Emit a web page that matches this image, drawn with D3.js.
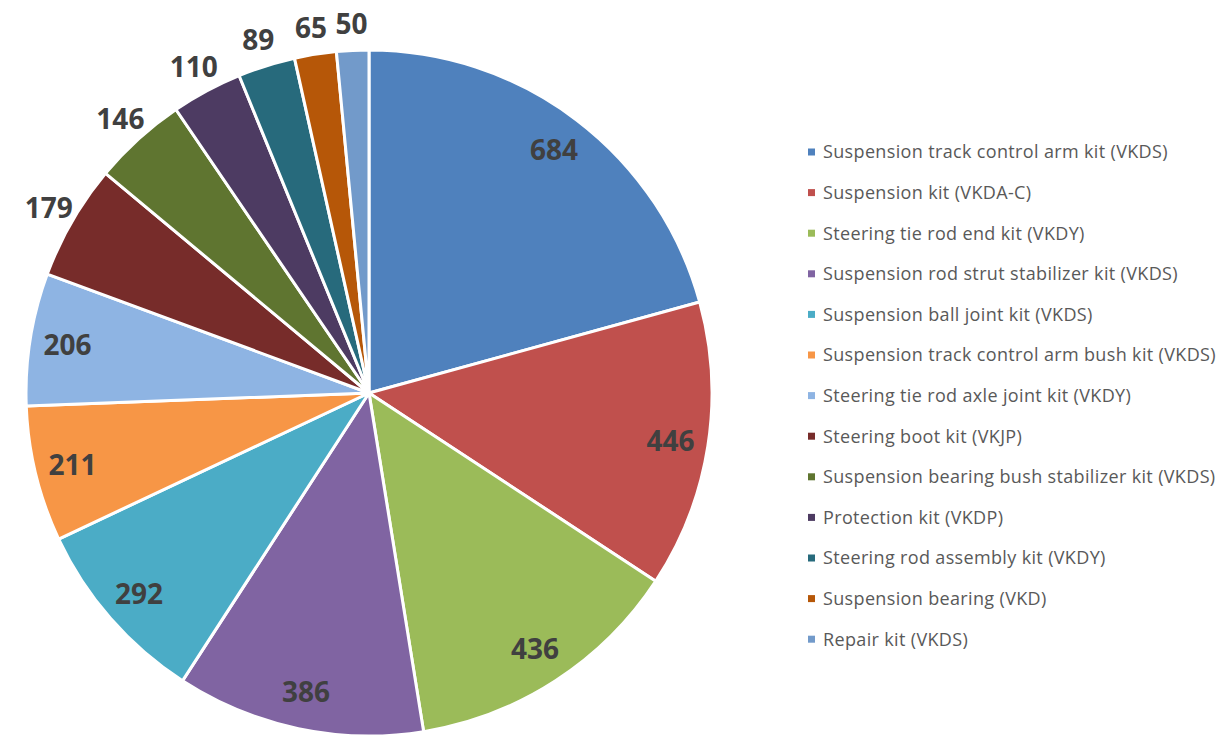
<!DOCTYPE html>
<html>
<head>
<meta charset="utf-8">
<script src="https://cdn.jsdelivr.net/npm/d3@7"></script>
<style>
  body { margin: 0; background: #ffffff; }
</style>
</head>
<body>
<div id="chart"></div>
<script>
// chart data
var categories = [
	"Suspension track control arm kit (VKDS)",
	"Suspension kit (VKDA-C)",
	"Steering tie rod end kit (VKDY)",
	"Suspension rod strut stabilizer kit (VKDS)",
	"Suspension ball joint kit (VKDS)",
	"Suspension track control arm bush kit (VKDS)",
	"Steering tie rod axle joint kit (VKDY)",
	"Steering boot kit (VKJP)",
	"Suspension bearing bush stabilizer kit (VKDS)",
	"Protection kit (VKDP)",
	"Steering rod assembly kit (VKDY)",
	"Suspension bearing (VKD)",
	"Repair kit (VKDS)"
];
var values = [684, 446, 436, 386, 292, 211, 206, 179, 146, 110, 89, 65, 50];
var colors = ["#4f81bd", "#c0504d", "#9bbb59", "#8064a2", "#4bacc6", "#f79646",
	"#8eb4e3", "#772c2a", "#5f7530", "#4d3b62", "#276a7c", "#b65708", "#729aca"];

var w = 1224, h = 738;
var cx = 369, cy = 393, r = 343;

var svg = d3.select("#chart").append("svg")
	.attr("width", w)
	.attr("height", h);

var pie = d3.pie().sort(null).value(function(d) { return d; });
var arcs = pie(values);
var arc = d3.arc().innerRadius(0).outerRadius(r);
var labelArcIn = d3.arc().innerRadius(r * 0.89).outerRadius(r * 0.89);
var labelArcOut = d3.arc().innerRadius(370).outerRadius(370);

var g = svg.append("g").attr("transform", "translate(" + cx + "," + cy + ")");

g.selectAll("path.slice")
	.data(arcs)
	.enter().append("path")
	.attr("class", "slice")
	.attr("d", arc)
	.attr("fill", function(d, i) { return colors[i]; })
	.attr("stroke", "#ffffff")
	.attr("stroke-width", 3)
	.attr("stroke-linejoin", "round");

// data labels: big slices inside, small ones outside
g.selectAll("text.lbl")
	.data(arcs)
	.enter().append("text")
	.attr("class", "lbl")
	.attr("transform", function(d, i) {
		var p = (i < 7 ? labelArcIn : labelArcOut).centroid(d);
		return "translate(" + p[0] + "," + p[1] + ")";
	})
	.attr("dy", "0.36em")
	.attr("text-anchor", "middle")
	.attr("font-family", "'Open Sans', sans-serif")
	.attr("font-weight", "bold")
	.attr("font-size", "28px")
	.attr("fill", "#404040")
	.text(function(d) { return d.data; });

// legend
var legend = svg.append("g").attr("transform", "translate(808,152)");
var rowH = 40.6;
var items = legend.selectAll("g.item")
	.data(categories)
	.enter().append("g")
	.attr("class", "item")
	.attr("transform", function(d, i) { return "translate(0," + (i * rowH) + ")"; });

items.append("rect")
	.attr("x", 0)
	.attr("y", -3.5)
	.attr("width", 7)
	.attr("height", 7)
	.attr("fill", function(d, i) { return colors[i]; });

items.append("text")
	.attr("x", 15)
	.attr("y", 0)
	.attr("dy", "0.36em")
	.attr("font-family", "'Open Sans', sans-serif")
	.attr("font-size", "18px")
	.attr("letter-spacing", "0.35px")
	.attr("fill", "#595959")
	.text(function(d) { return d; });
</script>
</body>
</html>
